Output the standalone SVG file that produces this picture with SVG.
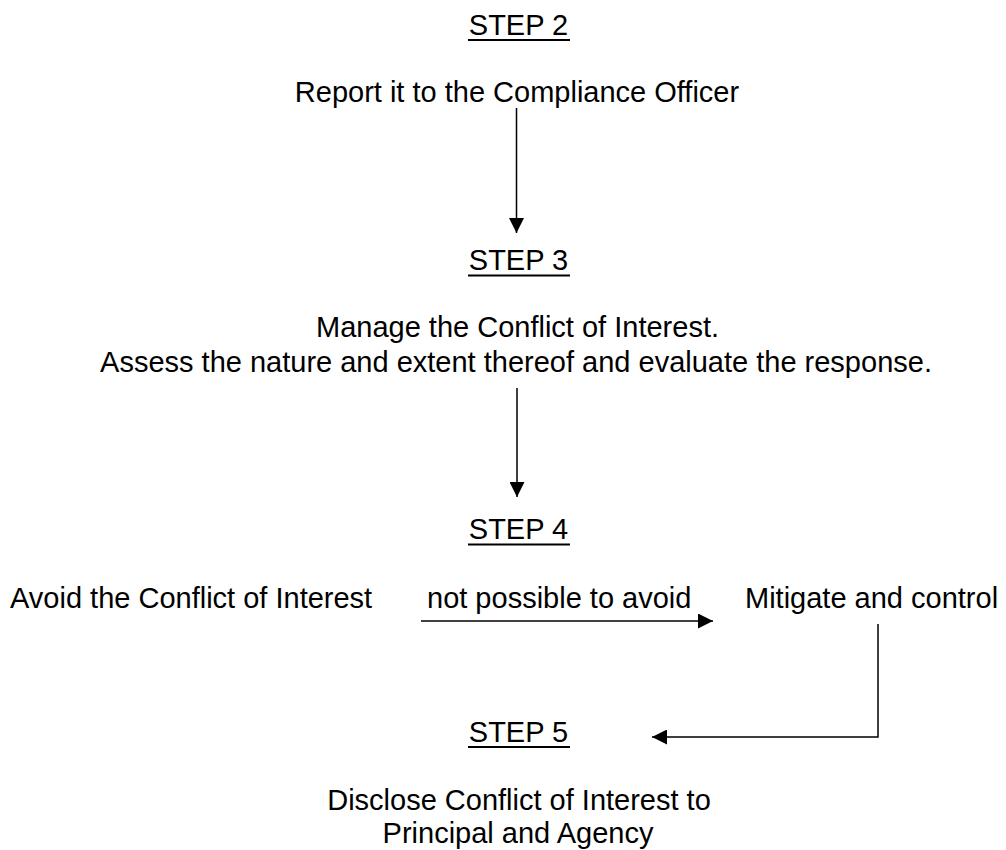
<svg xmlns="http://www.w3.org/2000/svg" width="1006" height="850" viewBox="0 0 1006 850">
<defs>
<style>
text{font-family:"Liberation Sans",Arial,sans-serif;font-size:29px;fill:#000}
.c{text-anchor:middle}
.ul{stroke:#000;stroke-width:2.2}
.conn{stroke:#000;stroke-width:1.5;fill:none}
</style>
<marker id="ah" viewBox="0 0 10 10" refX="10" refY="5" markerUnits="userSpaceOnUse" markerWidth="15" markerHeight="15" orient="auto">
<path d="M0,0 L10,5 L0,10 z" fill="#000"/>
</marker>
</defs>
<rect width="1006" height="850" fill="#fff"/>
<g id="step2">
<text class="c" x="518.5" y="35">STEP 2</text>
<line class="ul" x1="468" y1="40" x2="570" y2="40"/>
<text class="c" x="517" y="102">Report it to the Compliance Officer</text>
</g>
<g id="step3">
<text class="c" x="518.5" y="270">STEP 3</text>
<line class="ul" x1="468" y1="275.5" x2="570" y2="275.5"/>
<text class="c" x="517.5" y="337">Manage the Conflict of Interest.</text>
<text class="c" x="516" y="372">Assess the nature and extent thereof and evaluate the response.</text>
</g>
<g id="step4">
<text class="c" x="518.5" y="539">STEP 4</text>
<line class="ul" x1="468" y1="544.5" x2="570" y2="544.5"/>
</g>
<g id="avoid">
<text x="10" y="608">Avoid the Conflict of Interest</text>
</g>
<g id="mitigate">
<text x="745" y="608">Mitigate and control</text>
</g>
<g id="step5">
<text class="c" x="518.5" y="742">STEP 5</text>
<line class="ul" x1="468" y1="747" x2="570" y2="747"/>
<text class="c" x="519" y="810">Disclose Conflict of Interest to</text>
<text class="c" x="518" y="843">Principal and Agency</text>
</g>
<g id="connectors">
<line class="conn" x1="516.5" y1="108" x2="516.5" y2="233" marker-end="url(#ah)"/>
<line class="conn" x1="517" y1="388" x2="517" y2="497" marker-end="url(#ah)"/>
<line class="conn" x1="421" y1="621" x2="713" y2="621" marker-end="url(#ah)"/>
<text x="427" y="608">not possible to avoid</text>
<polyline class="conn" points="878,624 878,737 652,737" marker-end="url(#ah)"/>
</g>
</svg>
